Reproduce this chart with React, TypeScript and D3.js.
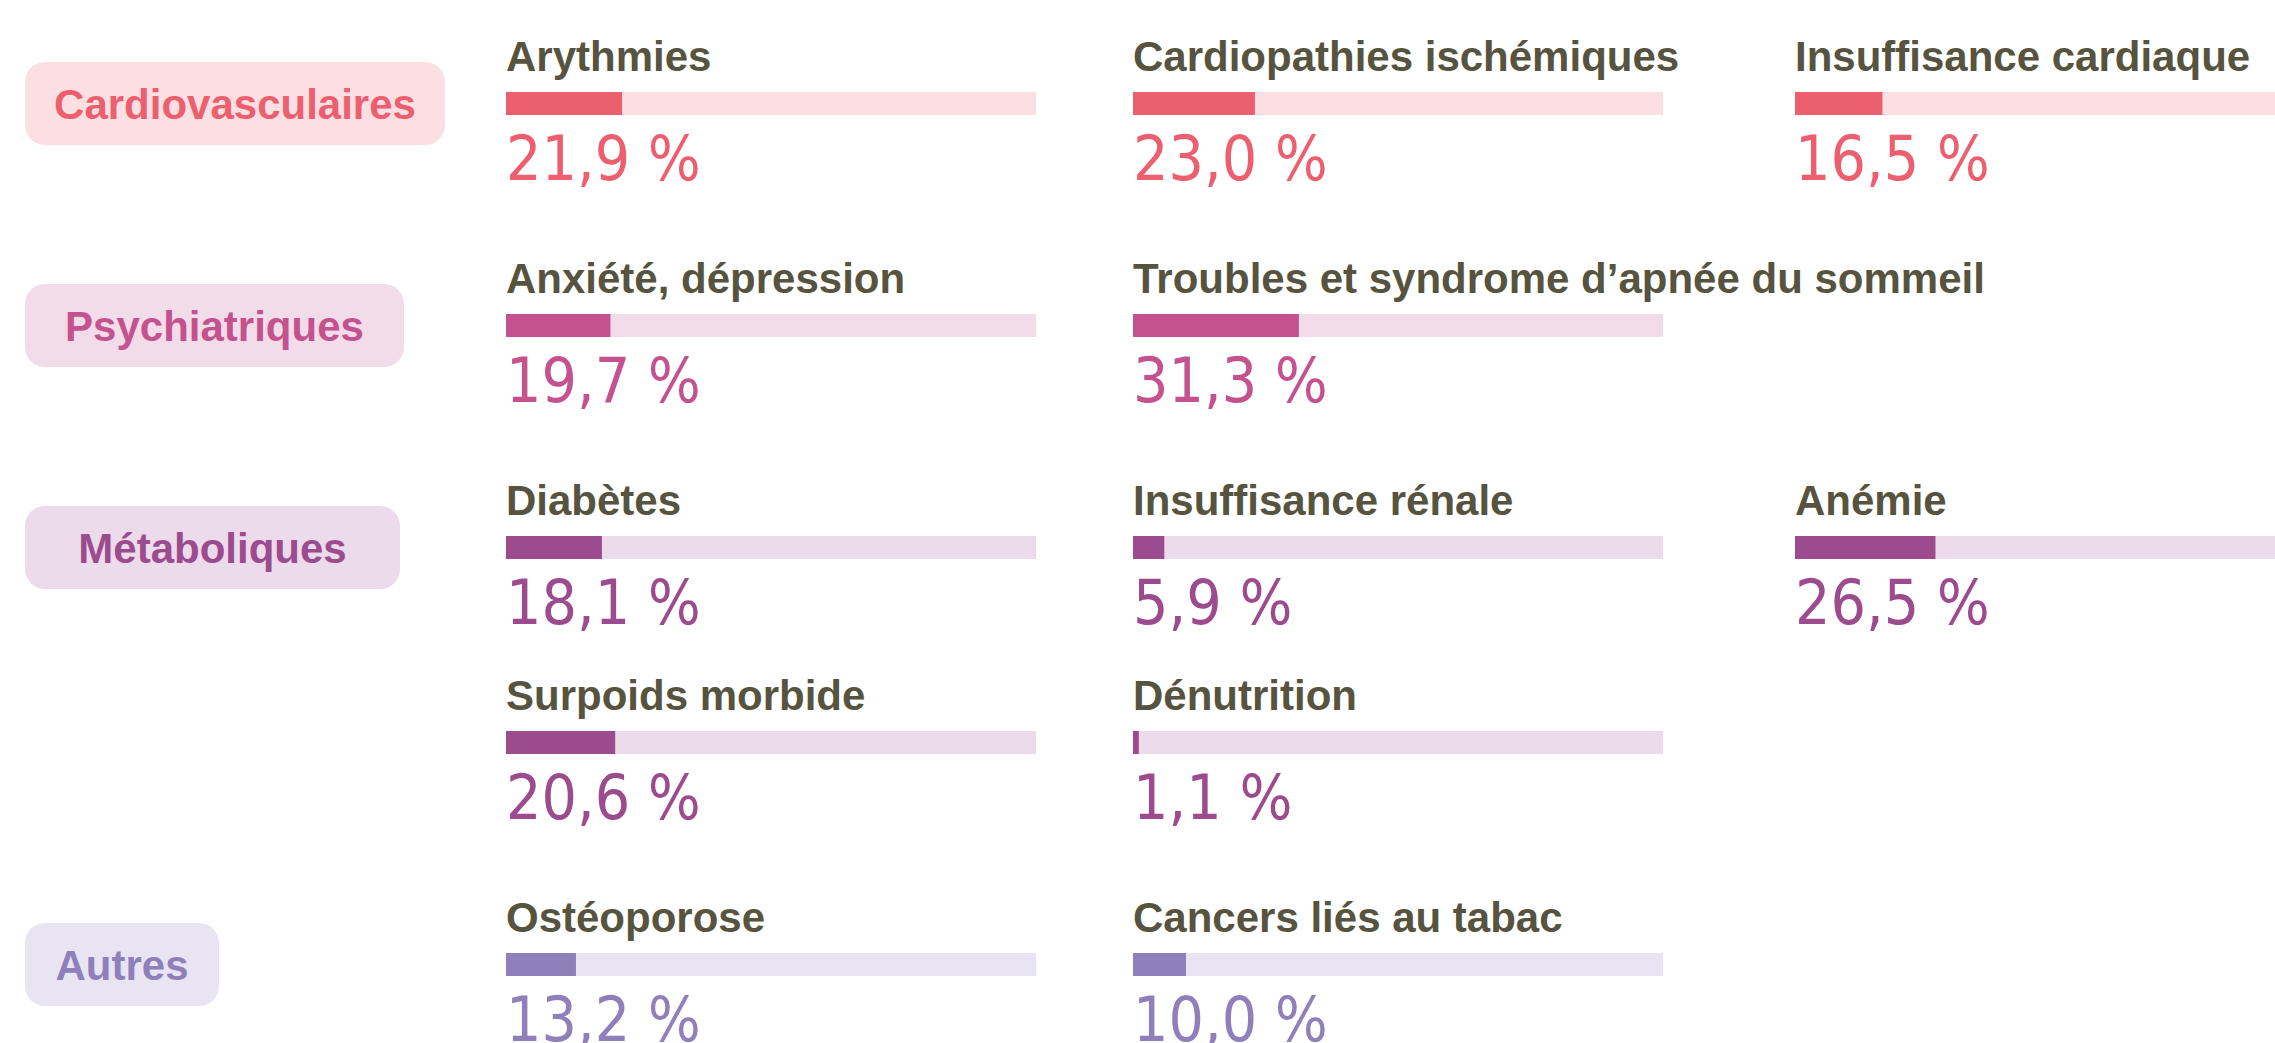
import React from "react";
import * as d3 from "d3";

// groupes de pathologies
const groups = ["Cardiovasculaires", "Psychiatriques", "Métaboliques", "Autres"];

// pathologies, dans l'ordre de lecture
const itemNames = [
  "Arythmies",
  "Cardiopathies ischémiques",
  "Insuffisance cardiaque",
  "Anxiété, dépression",
  "Troubles et syndrome d’apnée du sommeil",
  "Diabètes",
  "Insuffisance rénale",
  "Anémie",
  "Surpoids morbide",
  "Dénutrition",
  "Ostéoporose",
  "Cancers liés au tabac",
];
const itemGroup = [0, 0, 0, 1, 1, 2, 2, 2, 2, 2, 3, 3];
const itemValues = [21.9, 23.0, 16.5, 19.7, 31.3, 18.1, 5.9, 26.5, 20.6, 1.1, 13.2, 10.0];

// couleurs par groupe
const fillColors = ["#ec5f6f", "#c4528e", "#9c4b8f", "#8f80bb"];
const bgColors = ["#fcdfe2", "#f3dce9", "#ecdbea", "#e8e4f1"];
const pillWidths = [420, 379, 375, 194];

const width = 2275;
const height = 1043;
const labelColor = "#56533f";

const colX = [506, 1133, 1795];
const barW = 530;
const barH = 23;
const firstBarTop = 92;
const subRowStep = 195;
const groupStep = 222;

const fr = d3.formatLocale({ decimal: ",", thousands: " ", grouping: [3], currency: ["", " €"] });
const fmt = fr.format(".1f");

export default function App() {
  const x = d3.scaleLinear().domain([0, 100]).range([0, barW]);

  // layout: 3 items per line inside each group
  const layout: { name: string; value: number; g: number; col: number; top: number }[] = [];
  const groupTop: number[] = [];
  let top = firstBarTop;
  groups.forEach((_, g) => {
    const idx = itemNames.map((_, i) => i).filter((i) => itemGroup[i] === g);
    groupTop.push(top);
    idx.forEach((i, k) => {
      const sub = Math.floor(k / 3);
      layout.push({ name: itemNames[i], value: itemValues[i], g, col: k % 3, top: top + sub * subRowStep });
    });
    const nSub = Math.ceil(idx.length / 3);
    top += (nSub - 1) * subRowStep + groupStep;
  });

  return (
    <svg
      width={width}
      height={height}
      style={{ position: "absolute", left: 0, top: 0, background: "#fff" }}
    >
      {groups.map((g, i) => {
        const cy = groupTop[i] + barH / 2;
        return (
          <g key={g}>
            <rect x={25} y={cy - 41.5} width={pillWidths[i]} height={83} rx={20} fill={bgColors[i]} />
            <text
              x={25 + pillWidths[i] / 2}
              y={cy + 15}
              textAnchor="middle"
              fill={fillColors[i]}
              fontFamily="'Liberation Sans', Arial, sans-serif"
              fontWeight="bold"
              fontSize={42}
            >
              {g}
            </text>
          </g>
        );
      })}
      {layout.map((d) => {
        const x0 = colX[d.col];
        return (
          <g key={d.name} transform={`translate(${x0},${d.top})`}>
            <text
              x={0}
              y={-21}
              fill={labelColor}
              fontFamily="'Liberation Sans', Arial, sans-serif"
              fontWeight="bold"
              fontSize={42}
            >
              {d.name}
            </text>
            <rect x={0} y={0} width={x(100)} height={barH} fill={bgColors[d.g]} />
            <rect x={0} y={0} width={x(d.value)} height={barH} fill={fillColors[d.g]} />
            <text
              x={0}
              y={88}
              fill={fillColors[d.g]}
              fontFamily="'DejaVu Sans Condensed', 'DejaVu Sans', sans-serif"
              fontStretch="condensed"
              fontSize={62}
            >
              {fmt(d.value)} %
            </text>
          </g>
        );
      })}
    </svg>
  );
}
